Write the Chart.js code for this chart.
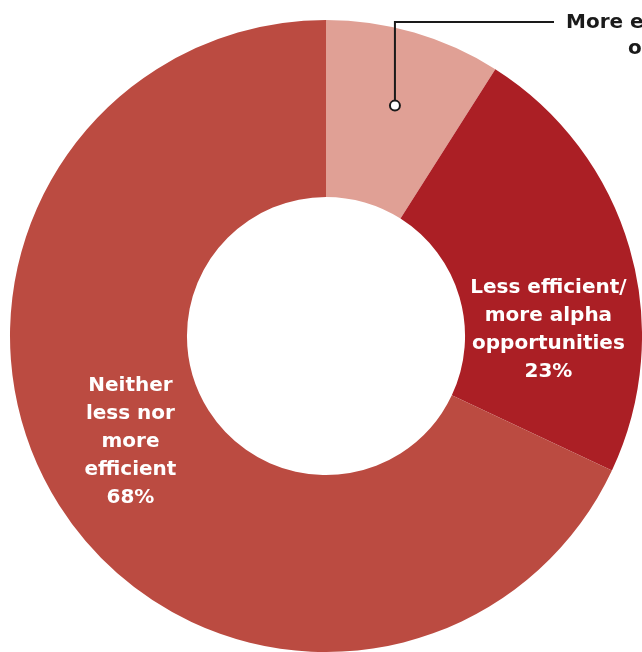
<!DOCTYPE html>
<html>
<head>
<meta charset="utf-8">
<script src="https://cdn.jsdelivr.net/npm/chart.js@4"></script>
<style>
  html, body { margin: 0; padding: 0; background: #fff; overflow: hidden; }
  #wrap { width: 642px; height: 652px; position: relative; }
</style>
</head>
<body>
<div id="wrap"><canvas id="myChart" width="642" height="652"></canvas></div>
<script>
// data
const categories = ["More efficient/ fewer alpha opportunities", "Less efficient/ more alpha opportunities", "Neither less nor more efficient"]
const shares = [9, 23, 68]
const labelLines = [
    ["More efficient/", "opportunities"],
    ["Less efficient/", "more alpha", "opportunities", "23%"],
    ["Neither", "less nor", "more", "efficient", "68%"]
]
const colors = ["#E0A095", "#AB1F25", "#BB4B41"]

const FONT = "bold 20px 'DejaVu Sans', sans-serif"

// white labels inside the big slices + a callout for the small one
const labelPlugin = {
    id: "sliceLabels",
    afterDraw(chart) {
        const ctx = chart.ctx
        const arcs = chart.getDatasetMeta(0).data
        ctx.save()
        ctx.font = FONT
        ctx.textAlign = "center"
        ctx.textBaseline = "middle"

        // inner labels (slice 1 and 2)
        const angles = [null, 88.4, 241.5] // degrees clockwise from top
        for (let i = 1; i < arcs.length; i++) {
            const a = arcs[i]
            const r = (a.innerRadius + a.outerRadius) / 2 - 5
            const t = angles[i] * Math.PI / 180
            const cx = a.x + r * Math.sin(t)
            const cy = a.y - r * Math.cos(t)
            const lines = labelLines[i]
            const lh = 28
            ctx.fillStyle = "#ffffff"
            lines.forEach((line, k) => {
                ctx.fillText(line, cx, cy + (k - (lines.length - 1) / 2) * lh)
            })
        }

        // callout for the small slice
        const a0 = arcs[0]
        const mid = (a0.startAngle + a0.endAngle) / 2
        const r0 = a0.innerRadius + 0.57 * (a0.outerRadius - a0.innerRadius)
        const px = a0.x + r0 * Math.cos(mid) + 2
        const py = a0.y + r0 * Math.sin(mid)
        const topY = 22
        ctx.strokeStyle = "#1a1a1a"
        ctx.lineWidth = 2
        ctx.beginPath()
        ctx.moveTo(px, py)
        ctx.lineTo(px, topY)
        ctx.lineTo(554, topY)
        ctx.stroke()
        ctx.beginPath()
        ctx.arc(px, py, 5, 0, Math.PI * 2)
        ctx.fillStyle = "#ffffff"
        ctx.fill()
        ctx.stroke()

        ctx.fillStyle = "#1a1a1a"
        ctx.textAlign = "left"
        ctx.fillText(labelLines[0][0], 566, topY + 1)
        ctx.fillText(labelLines[0][1], 628, topY + 27)
        ctx.restore()
    }
}

const ctx = document.getElementById('myChart').getContext('2d')
const myChart = new Chart(ctx, {
    type: 'doughnut',
    data: {
        labels: categories,
        datasets: [{
            data: shares,
            backgroundColor: colors,
            borderWidth: 0
        }]
    },
    options: {
        responsive: false,
        animation: false,
        cutout: "44%",
        layout: {
            padding: { left: 10, top: 20, right: 0, bottom: 0 }
        },
        plugins: {
            legend: { display: false },
            tooltip: { enabled: false }
        }
    },
    plugins: [labelPlugin]
})
</script>
</body>
</html>
